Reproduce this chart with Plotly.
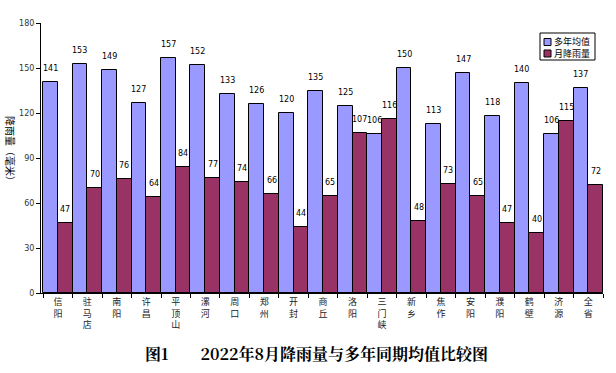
import plotly.graph_objects as go

categories = ["信阳", "驻马店", "南阳", "许昌", "平顶山", "漯河", "周口", "郑州", "开封", "商丘",
              "洛阳", "三门峡", "新乡", "焦作", "安阳", "濮阳", "鹤壁", "济源", "全省"]
avg_values = [141, 153, 149, 127, 157, 152, 133, 126, 120, 135, 125, 106, 150, 113, 147, 118, 140, 106, 137]
month_values = [47, 70, 76, 64, 84, 77, 74, 66, 44, 65, 107, 116, 48, 73, 65, 47, 40, 115, 72]
y_ticks = [0, 30, 60, 90, 120, 150, 180]
series_names = ["多年均值", "月降雨量"]
series_colors = ["#9999FF", "#993366"]

labels = ["<br>".join(list(c)) for c in categories]

font_cjk = "Noto Sans CJK SC"

W, H = 616, 373
L, R, T, B = 41, 13, 23, 80
PW, PH = W - L - R, H - T - B
bar_w = PW / len(categories) / 2


def px(x):
    return (x - L) / PW


def py(y):
    return (H - B - y) / PH


fig = go.Figure()
annotations = []
for k, (name, vals, col) in enumerate(zip(series_names, [avg_values, month_values], series_colors)):
    fig.add_trace(go.Bar(
        x=labels, y=vals, name=name,
        marker=dict(color=col, line=dict(color="black", width=1)),
        showlegend=False,
    ))
    shift = (k - 0.5) * bar_w
    for lab, v in zip(labels, vals):
        annotations.append(dict(
            x=lab, y=v, xref="x", yref="y", text=str(v), showarrow=False,
            xanchor="center", yanchor="bottom", xshift=shift, yshift=7,
            font=dict(size=8, color="black", family="DejaVu Sans"),
        ))

shapes = [dict(type="rect", xref="paper", yref="paper",
               x0=px(540), x1=px(595), y0=py(60), y1=py(33),
               line=dict(color="black", width=1), fillcolor="white", layer="above")]
for i, col in enumerate(series_colors):
    cy = 42 + i * 11.5
    shapes.append(dict(type="rect", xref="paper", yref="paper",
                       x0=px(544), x1=px(551), y0=py(cy + 3.5), y1=py(cy - 3.5),
                       line=dict(color="black", width=1), fillcolor=col, layer="above"))
annotations.append(dict(text="<br>".join(series_names), xref="paper", yref="paper",
                        x=px(552), y=py(47.75), xanchor="left", yanchor="middle", align="left",
                        showarrow=False, font=dict(size=9, family=font_cjk, color="black")))

# y-axis title (rotated clockwise, reading top to bottom)
annotations.append(dict(text="降雨量（毫米）", xref="paper", yref="paper",
                        x=px(11), y=py(151), xanchor="center", yanchor="middle",
                        textangle=90, showarrow=False,
                        font=dict(size=10, family=font_cjk, color="black")))

annotations.append(dict(
    text="<b>图1　　2022年8月降雨量与多年同期均值比较图</b>",
    xref="paper", yref="paper", x=px(316), y=py(353), xanchor="center", yanchor="middle",
    showarrow=False, font=dict(size=16, family="Noto Serif CJK SC, " + font_cjk, color="black"),
))

fig.update_layout(
    width=W, height=H,
    margin=dict(l=L, r=R, t=T, b=B, autoexpand=False),
    paper_bgcolor="white", plot_bgcolor="white",
    barmode="group", bargap=0, bargroupgap=0,
    font=dict(family=font_cjk, color="black"),
    showlegend=False,
    xaxis=dict(
        showline=True, linecolor="black", linewidth=1,
        ticks="outside", tickson="boundaries", ticklen=4, tickcolor="black",
        tickfont=dict(size=9, family=font_cjk, color="#222"),
        showgrid=False, tickangle=0, automargin=False,
    ),
    yaxis=dict(
        range=[0, 180], tickvals=y_ticks,
        showline=True, linecolor="black", linewidth=1,
        ticks="outside", ticklen=4, tickcolor="black",
        tickfont=dict(size=8, color="#333", family="DejaVu Sans"),
        showgrid=False, zeroline=False, automargin=False,
    ),
    shapes=shapes,
    annotations=annotations,
)

fig.write_html("out.html", config={"displayModeBar": False},
               post_script="document.body.style.margin='0';document.body.style.overflow='hidden';")
